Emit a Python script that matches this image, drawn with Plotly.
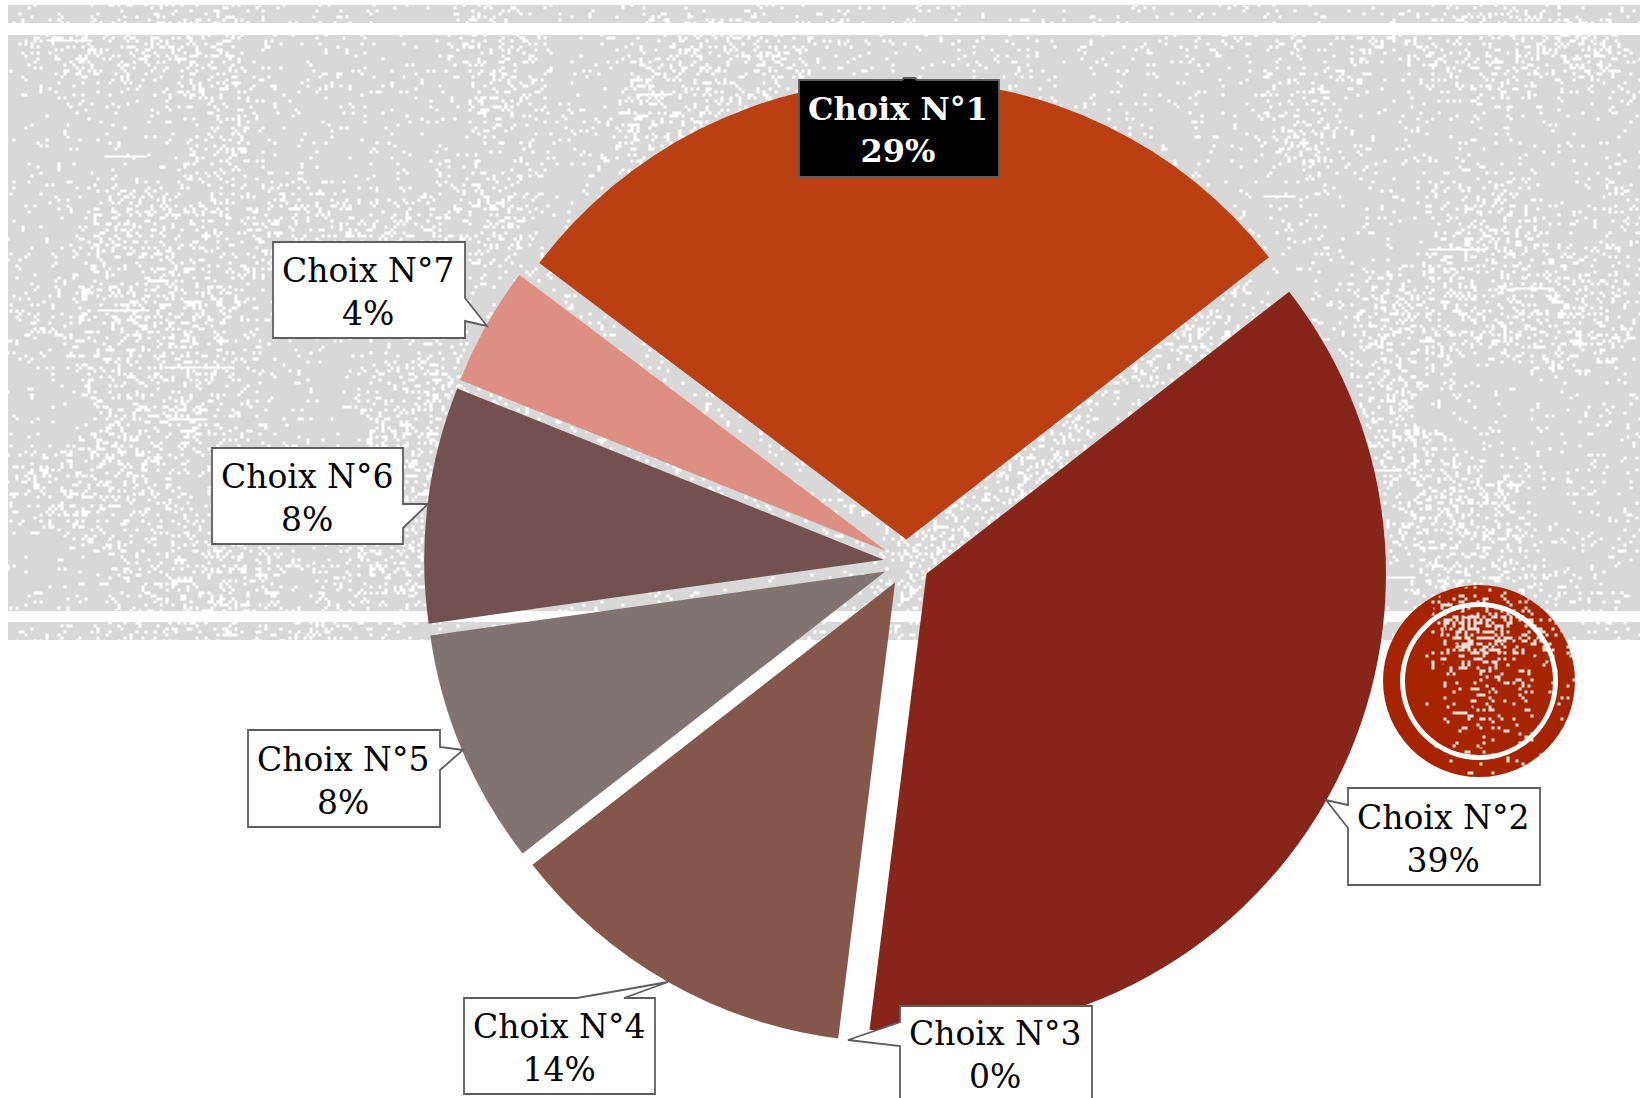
import base64, struct, zlib
import numpy as np
import plotly.graph_objects as go

W, H = 1645, 1098

# --- chart data ---
choices = ["Choix N°1", "Choix N°2", "Choix N°3", "Choix N°4", "Choix N°5", "Choix N°6", "Choix N°7"]
slice_sizes = [29.2, 37.5, 0.0, 12.5, 8.3, 8.3, 4.2]
# percentages as printed on the callouts
printed_pct = ["29%", "39%", "0%", "14%", "8%", "8%", "4%"]
slice_colors = ["#BA3F13", "#87251B", "#A5300F", "#84574A", "#807372", "#735151", "#DE8F84"]

# --- callout layout (pixels): box x0, y0, x1, y1 and the tail points ---
callouts = [
    (799, 80, 999, 177, [(902, 80), (904, 78), (915, 78), (917, 80)]),
    (1348, 788, 1540, 885, [(1348, 805), (1326, 800), (1348, 828)]),
    (900, 1006, 1092, 1100, [(900, 1022), (848, 1040), (900, 1046)]),
    (464, 998, 655, 1094, [(577, 998), (668, 982), (624, 998)]),
    (248, 730, 440, 827, [(440, 747), (463, 750), (440, 770)]),
    (212, 448, 403, 544, [(403, 504), (428, 504), (403, 528)]),
    (273, 242, 465, 338, [(465, 298), (487, 326), (465, 321)]),
]
pie_cx, pie_cy, pie_outer = 906.5, 562.5, 482.5
bands = [(8, 5, 1640, 23), (8, 35, 1640, 611), (8, 622, 1640, 640)]
stamp_cx, stamp_cy, stamp_r, ring_r = 1479, 681, 96, 76.5


def fx(x):
    return x / W


def fy(y):
    return 1 - y / H


def png_uri(rgba):
    h, w = rgba.shape[:2]
    raw = b"".join(b"\0" + rgba[r].tobytes() for r in range(h))

    def chunk(t, d):
        return struct.pack(">I", len(d)) + t + d + struct.pack(">I", zlib.crc32(t + d))

    data = (b"\x89PNG\r\n\x1a\n" + chunk(b"IHDR", struct.pack(">IIBBBBB", w, h, 8, 6, 0, 0, 0))
            + chunk(b"IDAT", zlib.compress(raw, 9)) + chunk(b"IEND", b""))
    return "data:image/png;base64," + base64.b64encode(data).decode()


def box_blur(a, k):
    kernel = np.ones(k) / k
    a = np.apply_along_axis(lambda r: np.convolve(r, kernel, mode="same"), 0, a)
    return np.apply_along_axis(lambda r: np.convolve(r, kernel, mode="same"), 1, a)


# Decorative paper-grain texture only; it carries no chart values.
rng = np.random.default_rng(7)
cell = 3
gh, gw = H // cell + 1, W // cell + 1
coarse = rng.random((gh // 30 + 2, gw // 30 + 2))
coarse = box_blur(np.kron(coarse, np.ones((30, 30)))[:gh, :gw], 21)
coarse = np.clip((coarse - 0.30) / 0.40, 0, 1)
density = 0.055 + 0.17 * coarse ** 1.5
speck = (rng.random((gh, gw)) < density).astype(float)
speck = np.kron(speck, np.ones((cell, cell)))[:H, :W]
for _ in range(28):
    x0, y0, ln = rng.integers(8, W - 80), rng.integers(35, 610), rng.integers(25, 70)
    speck[y0:y0 + 2, x0:x0 + ln] = 1
alpha = np.clip(box_blur(speck, 2) * 1.05, 0, 1)
yy, xx = np.mgrid[0:H, 0:W]
band = np.zeros((H, W), bool)
for x0, y0, x1, y1 in bands:
    band[y0:y1, x0:x1] = True
tex = np.zeros((H, W, 4), np.uint8)
tex[..., :3] = (216 + (255 - 216) * alpha[..., None]).astype(np.uint8)
tex[..., 3] = band * 255

# grain over the round stamp
d = np.hypot(xx - stamp_cx, yy - stamp_cy)
focus = np.exp(-(((xx - 1475) / 62.0) ** 2 + ((yy - 628) / 30.0) ** 2))
low = np.exp(-(((xx - 1480) / 50.0) ** 2 + ((yy - 700) / 65.0) ** 2))
left_fade = np.clip((xx - 1420) / 25.0, 0, 1)
p = (0.02 + 0.13 * low + 0.48 * focus) * left_fade
fine = np.kron(rng.random((gh, gw)), np.ones((cell, cell)))[:H, :W]
st = ((fine < p) & (d < stamp_r)).astype(float)
st = np.clip(box_blur(st, 2) * 1.05, 0, 1)
stamp = np.zeros((H, W, 4), np.uint8)
stamp[..., :3] = 255
stamp[..., 3] = (st * 215).astype(np.uint8)

images = [
    dict(source=png_uri(tex), xref="paper", yref="paper", x=0, y=1, sizex=1, sizey=1,
         xanchor="left", yanchor="top", sizing="stretch", layer="below"),
    dict(source=png_uri(stamp), xref="paper", yref="paper", x=0, y=1, sizex=1, sizey=1,
         xanchor="left", yanchor="top", sizing="stretch", layer="above"),
]

shapes = [
    dict(type="circle", xref="paper", yref="paper", x0=fx(stamp_cx - stamp_r), x1=fx(stamp_cx + stamp_r),
         y0=fy(stamp_cy + stamp_r), y1=fy(stamp_cy - stamp_r), fillcolor="#A62500", line_width=0, layer="below"),
    dict(type="circle", xref="paper", yref="paper", x0=fx(stamp_cx - ring_r), x1=fx(stamp_cx + ring_r),
         y0=fy(stamp_cy + ring_r), y1=fy(stamp_cy - ring_r), fillcolor="rgba(0,0,0,0)",
         line=dict(color="white", width=5), layer="below"),
]

annotations = []
for i, (x0, y0, x1, y1, tail) in enumerate(callouts):
    first = i == 0
    pts = [(x0, y0), (x1, y0), (x1, y1), (x0, y1)]
    if tail:
        # insert the tail on the edge it belongs to
        tx, ty = tail[0]
        if ty == y0:
            pts = [(x0, y0)] + tail + [(x1, y0), (x1, y1), (x0, y1)]
        elif tx == x1:
            pts = [(x0, y0), (x1, y0)] + tail + [(x1, y1), (x0, y1)]
        else:
            pts = [(x0, y0), (x1, y0), (x1, y1), (x0, y1)] + tail[::-1]
    path = "M " + " L ".join(f"{fx(a):.5f},{fy(b):.5f}" for a, b in pts) + " Z"
    shapes.append(dict(type="path", path=path, xref="paper", yref="paper",
                       fillcolor="black" if first else "white",
                       line=dict(color="#5E5E5E", width=1.8), layer="above"))
    annotations.append(dict(
        text=f"<b>{choices[i]}<br>{printed_pct[i]}</b>" if first else f"{choices[i]}<br>{printed_pct[i]}",
        x=fx((x0 + x1) / 2 - 1), y=fy((y0 + y1) / 2 + 2), xref="paper", yref="paper",
        xanchor="center", yanchor="middle", showarrow=False, align="center",
        font=dict(family="DejaVu Serif", size=32 if first else 33, color="white" if first else "black"),
    ))

fig = go.Figure(go.Pie(
    labels=choices, values=slice_sizes, sort=False, direction="clockwise", rotation=307,
    pull=0.05, marker=dict(colors=slice_colors, line=dict(width=0)),
    textinfo="none", hoverinfo="label+text", text=printed_pct,
    domain=dict(x=[fx(pie_cx - pie_outer), fx(pie_cx + pie_outer)],
                y=[fy(pie_cy + pie_outer), fy(pie_cy - pie_outer)]),
))
fig.update_layout(width=W, height=H, margin=dict(l=0, r=0, t=0, b=0), autosize=False,
                  showlegend=False, paper_bgcolor="white", images=images, shapes=shapes,
                  annotations=annotations)
fig.write_html("out.html", config=dict(displayModeBar=False),
               post_script="document.body.style.margin='0';document.body.style.overflow='hidden';")
